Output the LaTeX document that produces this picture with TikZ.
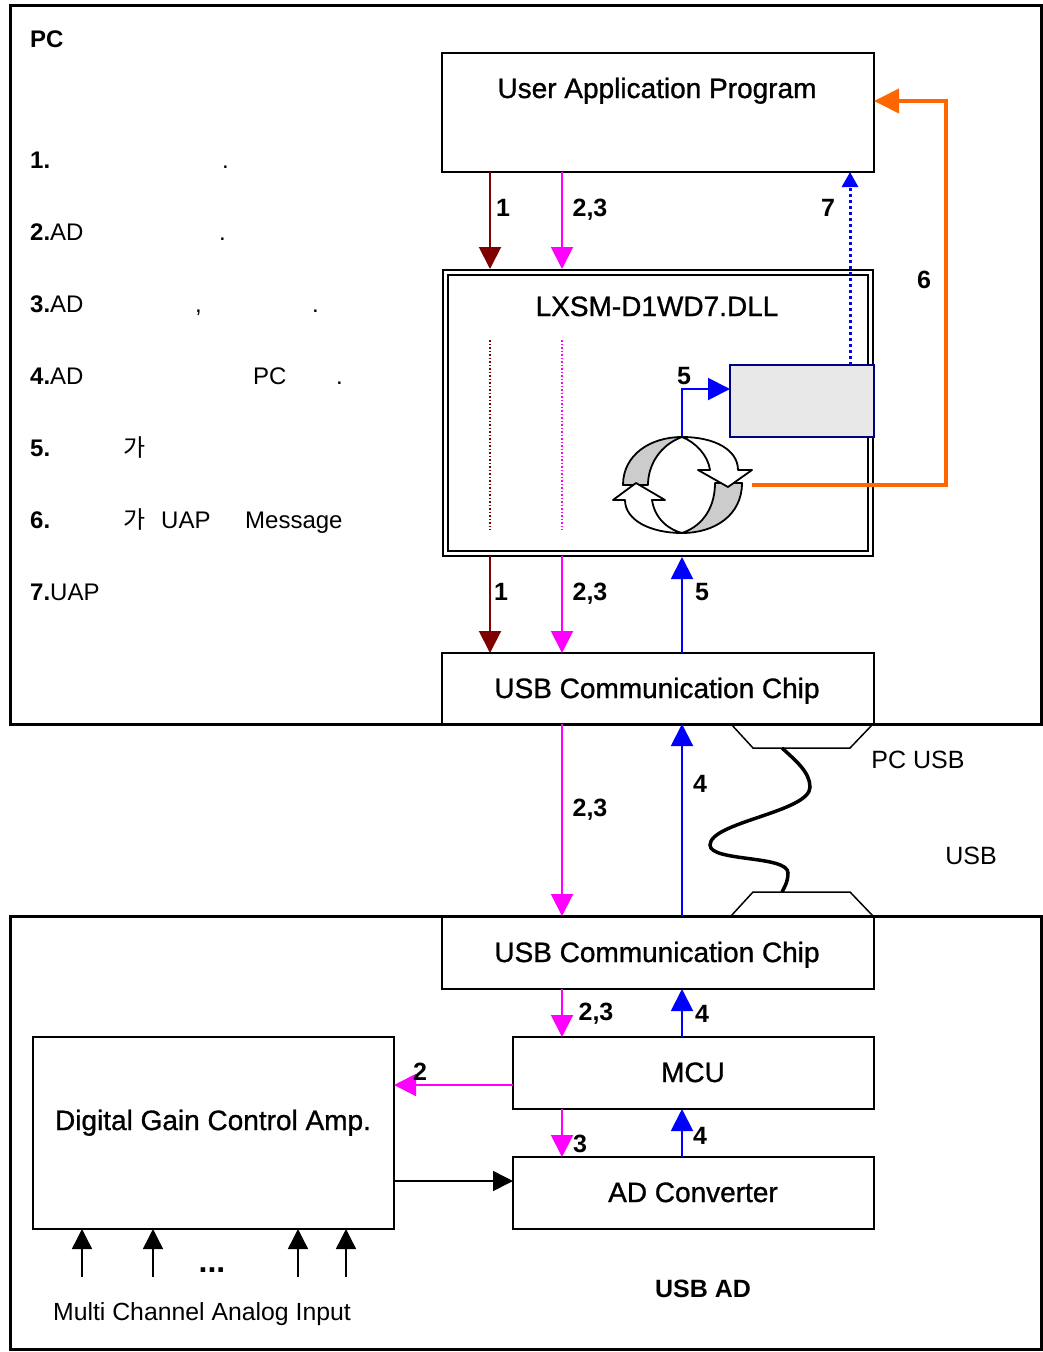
\documentclass[tikz,border=0pt]{standalone}
\usepackage{fontspec}
\setmainfont{Liberation Sans}
\newfontfamily\krfont{Noto Sans CJK KR}
\newfontfamily\boxfont{Liberation Sans}[FakeBold=1]
\usetikzlibrary{arrows.meta,positioning}

\definecolor{dllred}{HTML}{800000}
\definecolor{msgpink}{HTML}{FF00FF}
\definecolor{datablue}{HTML}{0000FF}
\definecolor{evtorange}{HTML}{FF6600}
\definecolor{bufnavy}{HTML}{000080}
\definecolor{bufgray}{HTML}{E8E8E8}
\definecolor{loopgray}{HTML}{CCCCCC}

\begin{document}
\begin{tikzpicture}[x=1pt,y=-1pt,
    frame/.style={draw,line width=3pt,inner sep=0pt,outer sep=0pt,anchor=north west},
    block/.style={draw,line width=1.6pt,inner sep=0pt,outer sep=0pt,anchor=north west},
    boxtext/.style={font=\boxfont\fontsize{28}{33}\selectfont,anchor=base,inner sep=0pt},
    numtext/.style={font=\bfseries\fontsize{25}{30}\selectfont,anchor=base,inner sep=0pt},
    listtext/.style={font=\fontsize{24}{29}\selectfont,anchor=base west,inner sep=0pt},
    flow/.style={line width=2pt,-{Triangle[length=22pt,width=22pt]}},
    inflow/.style={line width=1.5pt,-{Triangle[length=20pt,width=20pt]}}]
    \useasboundingbox (0,0) rectangle (1043,1352);

    \node[frame,minimum width=1031pt,minimum height=719pt] (pc) at (10,5) {};
    \node[frame,minimum width=1031pt,minimum height=433pt] (dev) at (10,916) {};
    \node[block,minimum width=432pt,minimum height=119pt] (uap) at (442,53) {};
    \node[block,line width=2pt,minimum width=430pt,minimum height=286pt] (dll) at (443,270) {};
    \node[block,line width=2pt,minimum width=420pt,minimum height=276pt] (dllin) at (448,275) {};
    \node[block,draw=bufnavy,fill=bufgray,minimum width=144pt,minimum height=72pt] (buf) at (730,365) {};
    \node[block,minimum width=432pt,minimum height=71pt] (pcusb) at (442,653) {};
    \node[block,minimum width=432pt,minimum height=73pt] (devusb) at (442,916) {};
    \node[block,minimum width=361pt,minimum height=72pt] (mcu) at (513,1037) {};
    \node[block,minimum width=361pt,minimum height=72pt] (adc) at (513,1157) {};
    \node[block,minimum width=361pt,minimum height=192pt] (amp) at (33,1037) {};

    \node[boxtext] (uaptext) at (657,98) {User Application Program};
    \node[boxtext] (dlltext) at (657,316) {LXSM-D1WD7.DLL};
    \node[boxtext] (pcusbtext) at (657,698) {USB Communication Chip};
    \node[boxtext] (devusbtext) at (657,962) {USB Communication Chip};
    \node[boxtext] (mcutext) at (693,1082) {MCU};
    \node[boxtext] (adctext) at (693,1202) {AD Converter};
    \node[boxtext] (amptext) at (213,1130) {Digital Gain Control Amp.};

    \node[listtext,font=\bfseries\fontsize{24}{29}\selectfont] (pclabel) at (30,47) {PC};
    \node[numtext] (devlabel) at (703,1297) {USB AD};
    \node[listtext,font=\fontsize{25}{30}\selectfont,anchor=base] (pcusblabel) at (918,768) {PC USB};
    \node[listtext,font=\fontsize{25}{30}\selectfont,anchor=base] (usblabel) at (971,864) {USB};
    \node[listtext,font=\fontsize{24.8}{29}\selectfont,anchor=base] (inlabel) at (202,1320) {Multi Channel Analog Input};
    \node[numtext,font=\bfseries\fontsize{32}{36}\selectfont] (dots) at (212,1272) {...};

    \node[listtext] (step1) at (30,168) {\textbf{1.}};
    \node[listtext] (step1b) at (222,168) {.};
    \node[listtext] (step2) at (30,240) {\textbf{2.}AD};
    \node[listtext] (step2b) at (219,240) {.};
    \node[listtext] (step3) at (30,312) {\textbf{3.}AD};
    \node[listtext] (step3b) at (195,312) {,};
    \node[listtext] (step3c) at (312,312) {.};
    \node[listtext] (step4) at (30,384) {\textbf{4.}AD};
    \node[listtext] (step4b) at (253,384) {PC};
    \node[listtext] (step4c) at (336,384) {.};
    \node[listtext] (step5) at (30,456) {\textbf{5.}};
    \node[listtext] (step5b) at (123,456) {\krfont 가};
    \node[listtext] (step6) at (30,528) {\textbf{6.}};
    \node[listtext] (step6b) at (123,528) {\krfont 가};
    \node[listtext] (step6c) at (161,528) {UAP};
    \node[listtext] (step6d) at (245,528) {Message};
    \node[listtext] (step7) at (30,600) {\textbf{7.}UAP};

    \coordinate (colA) at (490,0);
    \coordinate (colB) at (562,0);
    \coordinate (colC) at (682,0);
    \coordinate (colD) at (850,0);
    \coordinate (loop) at (682,485);

    \draw[flow,dllred,shorten >=1pt] (uap.south -| colA) -- (dll.north -| colA);
    \draw[flow,msgpink,shorten >=1pt] (uap.south -| colB) -- (dll.north -| colB);
    \draw[datablue,line width=3pt,dash pattern=on 3pt off 3pt,-{Triangle[length=15pt,width=16pt]}] (buf.north -| colD) -- (uap.south -| colD);
    \draw[evtorange,line width=4pt,-{Triangle[length=25pt,width=24pt]}] ([xshift=70pt]loop) -| (946,101) -- ([yshift=-48pt]uap.north east);
    \draw[dllred,line width=1.5pt,dotted] (490,340) -- (490,530);
    \draw[msgpink,line width=1.5pt,dotted] (562,340) -- (562,530);
    \draw[flow,datablue] ([yshift=48pt]loop) |- ([yshift=12pt]buf.west);

    \begin{scope}[shift={(loop)},line width=1.8pt,line join=round]
        \filldraw[fill=loopgray] (-59,0) .. controls (-59,-30) and (-32,-48) .. (0,-48)
            .. controls (-22,-40) and (-34,-20) .. (-34,0) -- cycle;
        \filldraw[fill=loopgray] (60,-2) .. controls (60,30) and (33,48) .. (0,48)
            .. controls (23,40) and (33,20) .. (33,-2) -- cycle;
        \filldraw[fill=white] (-69,15) -- (-46,-2) -- (-17,15) -- (-30,15)
            .. controls (-27,35) and (-12,45) .. (0,48)
            .. controls (-32,48) and (-57,35) .. (-57,15) -- cycle;
        \filldraw[fill=white] (0,-48) .. controls (33,-48) and (56,-35) .. (56,-15)
            -- (70,-15) -- (46,2) -- (16,-15) -- (28,-15)
            .. controls (26,-30) and (13,-43) .. (0,-48) -- cycle;
    \end{scope}

    \draw[flow,dllred] (dll.south -| colA) -- (pcusb.north -| colA);
    \draw[flow,msgpink] (dll.south -| colB) -- (pcusb.north -| colB);
    \draw[flow,datablue,shorten >=1pt] (pcusb.north -| colC) -- (dll.south -| colC);
    \draw[flow,msgpink] (pcusb.south -| colB) -- (devusb.north -| colB);
    \draw[flow,datablue] (devusb.north -| colC) -- (pcusb.south -| colC);
    \draw[flow,msgpink] (devusb.south -| colB) -- (mcu.north -| colB);
    \draw[flow,datablue] (mcu.north -| colC) -- (devusb.south -| colC);
    \coordinate (mculeft) at ([yshift=-48pt]mcu.north west);
    \draw[flow,msgpink] (mculeft) -- (mculeft -| amp.east);
    \draw[flow,msgpink] (mcu.south -| colB) -- (adc.north -| colB);
    \draw[flow,datablue] (adc.north -| colC) -- (mcu.south -| colC);
    \coordinate (adcleft) at ([yshift=-24pt]adc.north west);
    \draw[inflow] (adcleft -| amp.east) -- (adcleft);
    \foreach \x [count=\i] in {82,153,298,346} {
        \coordinate (in\i) at (\x,1277);
        \draw[inflow] (in\i) -- (in\i |- amp.south);
    }

    \draw[line width=1.5pt] (731,724) -- (753,748) -- (850,748) -- (873,724);
    \draw[line width=1.5pt] (731,916) -- (753,892) -- (850,892) -- (873,916);
    \draw[line width=3.5pt] (782,748) .. controls (795,760) and (810,772) .. (810,787)
        .. controls (810,812) and (710,822) .. (710,845)
        .. controls (710,862) and (788,855) .. (788,873)
        .. controls (788,882) and (784,888) .. (782,892);

    \node[numtext] (n1a) at (503,216) {1};
    \node[numtext] (n23a) at (590,216) {2,3};
    \node[numtext] (n7) at (828,216) {7};
    \node[numtext] (n6) at (924,288) {6};
    \node[numtext] (n5a) at (684,384) {5};
    \node[numtext] (n1b) at (501,600) {1};
    \node[numtext] (n23b) at (590,600) {2,3};
    \node[numtext] (n5b) at (702,600) {5};
    \node[numtext] (n23c) at (590,816) {2,3};
    \node[numtext] (n4a) at (700,792) {4};
    \node[numtext] (n23d) at (596,1020) {2,3};
    \node[numtext] (n4b) at (702,1022) {4};
    \node[numtext] (n2) at (420,1080) {2};
    \node[numtext] (n3) at (580,1152) {3};
    \node[numtext] (n4c) at (700,1144) {4};
\end{tikzpicture}
\end{document}
